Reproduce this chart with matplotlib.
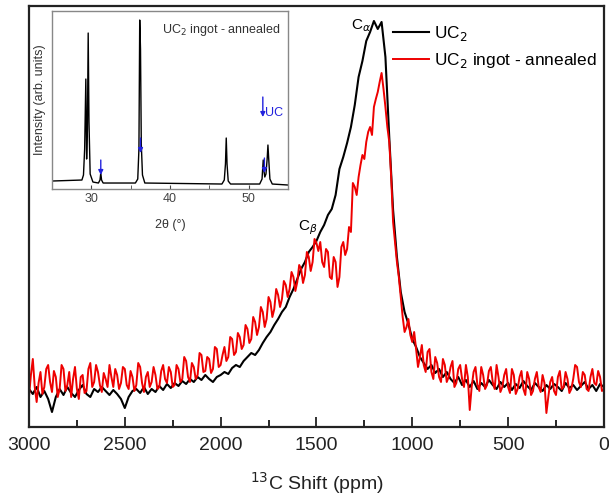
import numpy as np
import matplotlib
matplotlib.use("Agg")
import matplotlib.pyplot as plt
from matplotlib.ticker import MultipleLocator

plt.rcParams['font.family'] = ['Liberation Sans', 'DejaVu Sans']

# 13C NMR spectra, shift axis from 3000 down to 0 ppm
shift_black = np.arange(3000, -1, -20)
shift_red = np.arange(3000, -1, -10)

uc2 = [
    38, 33, 40, 30, 36, 28, 15, 30, 38, 32, 40, 34, 30, 37, 42, 33, 30, 38, 35, 40,
    36, 32, 37, 33, 28, 19, 30, 36, 38, 34, 40, 33, 38, 35, 41, 37, 43, 39, 44, 41,
    46, 43, 48, 45, 50, 47, 52, 48, 45, 50, 52,
    55, 53, 59, 62, 60, 66, 70, 74, 72, 77, 84, 90, 95, 102, 108, 115, 120, 130, 138, 148,
    158, 165, 175, 180, 186,
    195, 202, 212, 218, 232, 258, 270, 284, 300, 322, 350, 366, 386, 395, 406, 398, 405, 370, 290, 217,
    170, 135, 115, 103, 88, 80, 70, 64, 58, 62, 54, 58, 50, 55, 48, 44, 50, 42, 47, 40,
    46, 38, 44, 40, 47, 42, 38, 45, 40, 44, 37, 43, 39, 46, 41, 37, 44, 40, 36, 42,
    38, 43, 40, 36, 44, 39, 42, 37, 41, 45, 38, 42, 36, 43, 40,
]

uc2_annealed = [
    # 3000 - 2000
    30, 52, 68, 40, 25, 44, 55, 33, 40, 58, 62, 45, 35, 56, 50, 30, 38, 62, 58, 36,
    42, 55, 30, 48, 60, 38, 28, 50, 52, 34, 36, 58, 64, 40, 45, 62, 55, 42, 35, 54,
    48, 40, 62, 50, 40, 58, 52, 38, 44, 60, 58, 42, 38, 56, 50, 36, 42, 64, 60, 44,
    35, 50, 55, 40, 45, 60, 52, 38, 40, 56, 62, 48, 44, 60, 55, 40, 42, 62, 58, 45,
    48, 70, 66, 50, 45, 64, 60, 48, 52, 74, 72, 55, 56, 70, 68, 54, 58, 80, 78, 60,
    62,
    # 1990 - 1500
    72, 80, 66, 70, 90, 88, 72, 75, 94, 90, 78, 82, 102, 98, 84, 88, 110, 105, 92, 100,
    120, 115, 100, 108, 130, 125, 110, 118, 138, 132, 120, 128, 146, 142, 130, 138, 155, 150, 136, 145,
    162, 158, 144, 152, 175, 170, 156, 165, 188, 184,
    # 1490 - 1000
    176, 185, 165, 160, 178, 175, 150, 148, 170, 165, 140, 150, 180, 185, 172, 178, 200, 195, 244, 240,
    232, 250, 262, 272, 268, 285, 295, 300, 292, 320, 328, 335, 345, 354, 338, 320, 300, 285, 250, 205,
    185, 165, 150, 130, 110, 95, 100, 108, 92, 85,
    # 990 - 0
    95, 78, 60, 70, 82, 62, 55, 75, 78, 55, 48, 70, 64, 50, 45, 68, 62, 45, 50, 60,
    66, 40, 44, 58, 62, 48, 40, 62, 50, 17, 40, 55, 60, 42, 36, 60, 52, 38, 42, 56,
    60, 45, 38, 62, 50, 35, 40, 52, 58, 40, 34, 58, 52, 33, 38, 50, 56, 38, 32, 55,
    48, 32, 36, 48, 55, 40, 35, 52, 44, 14, 30, 45, 50, 36, 32, 50, 56, 38, 40, 55,
    48, 34, 38, 48, 62, 60, 45, 40, 55, 52, 38, 36, 50, 58, 44, 42, 56, 50, 36, 38,
]

# XRD inset (UC2 ingot - annealed)
two_theta = [25, 28.8, 29.0, 29.15, 29.3, 29.4, 29.5, 29.6, 29.7, 29.85, 30.2,
             30.9, 31.1, 31.2, 31.3, 31.5, 35.6, 35.9, 36.05, 36.15, 36.25, 36.35,
             36.5, 36.8, 46.6, 46.9, 47.05, 47.15, 47.25, 47.4, 47.7, 51.4, 51.7,
             51.85, 51.95, 52.05, 52.2, 52.35, 52.45, 52.55, 52.7, 53.0, 55]
xrd_intensity = [8, 9, 14, 40, 110, 30, 60, 156, 67, 15, 7,
                 6, 9, 16, 9, 6, 6, 10, 40, 169, 140, 45,
                 14, 6, 5, 9, 25, 51, 25, 8, 5, 5, 10,
                 29, 18, 12, 15, 30, 44, 30, 10, 5, 4]
uc_peaks = [31.2, 36.25, 52.0]

fig = plt.figure(figsize=(6.09, 4.99), dpi=100)
ax = fig.add_axes([0.0476, 0.1443, 0.944, 0.8437])

ax.plot(shift_black, uc2, color='black', lw=1.5, label='UC$_2$')
ax.plot(shift_red, uc2_annealed, color='#ee0000', lw=1.4, label='UC$_2$ ingot - annealed')

ax.set_xlim(3000, 0)
ax.set_ylim(0, 421)
ax.set_yticks([])
ax.xaxis.set_major_locator(MultipleLocator(500))
ax.xaxis.set_minor_locator(MultipleLocator(250))
ax.tick_params(axis='x', which='major', direction='in', length=7, width=1.3,
               labelsize=14, pad=7, colors='#222222', top=False)
ax.tick_params(axis='x', which='minor', direction='in', length=5, width=1.2, top=False)
for s in ax.spines.values():
    s.set_linewidth(1.6)
    s.set_color('#222222')
ax.set_xlabel('$^{13}$C Shift (ppm)', fontsize=14, labelpad=12, color='#222222')

ax.legend(loc='upper right', frameon=False, fontsize=12.4, handlelength=2.1,
          handletextpad=0.3, labelspacing=0.45, bbox_to_anchor=(1.0, 0.974),
          borderaxespad=0.0)

ax.text(1265, 393, r'C$_\alpha$', fontsize=11, ha='center', va='bottom')
ax.text(1545, 190, r'C$_\beta$', fontsize=11, ha='center', va='bottom')

# inset
ins = fig.add_axes([0.0854, 0.6212, 0.3875, 0.3567])
ins.plot(two_theta, xrd_intensity, color='black', lw=1.0)
ins.set_xlim(25, 55)
ins.set_ylim(0, 178)
ins.set_yticks([])
ins.xaxis.set_major_locator(MultipleLocator(10))
ins.xaxis.set_minor_locator(MultipleLocator(5))
ins.tick_params(axis='x', which='both', direction='in', labelsize=9,
                colors='#444444', length=3, pad=3)
for s in ins.spines.values():
    s.set_color('#888888')
    s.set_linewidth(1.0)
ins.set_xlabel('2θ (°)', fontsize=9, color='#333333', labelpad=10)
ins.set_ylabel('Intensity (arb. units)', fontsize=9, color='#333333', labelpad=4)
ins.text(0.97, 0.94, 'UC$_2$ ingot - annealed', transform=ins.transAxes,
         ha='right', va='top', fontsize=9, color='#333333')

arrow_tops = [29, 51, 31]
for pos, top in zip(uc_peaks, arrow_tops):
    ins.annotate('', xy=(pos, top - 15), xytext=(pos, top),
                 arrowprops=dict(arrowstyle='-|>', color='#2222dd', lw=1.0,
                                 mutation_scale=7, shrinkA=0, shrinkB=0))
ins.annotate('', xy=(51.8, 72), xytext=(51.8, 92),
             arrowprops=dict(arrowstyle='-|>', color='#2222dd', lw=1.0,
                             mutation_scale=7, shrinkA=0, shrinkB=0))
ins.text(52.1, 76, 'UC', fontsize=9, color='#2222dd', ha='left', va='center')

fig.savefig('out.png', dpi=100)
